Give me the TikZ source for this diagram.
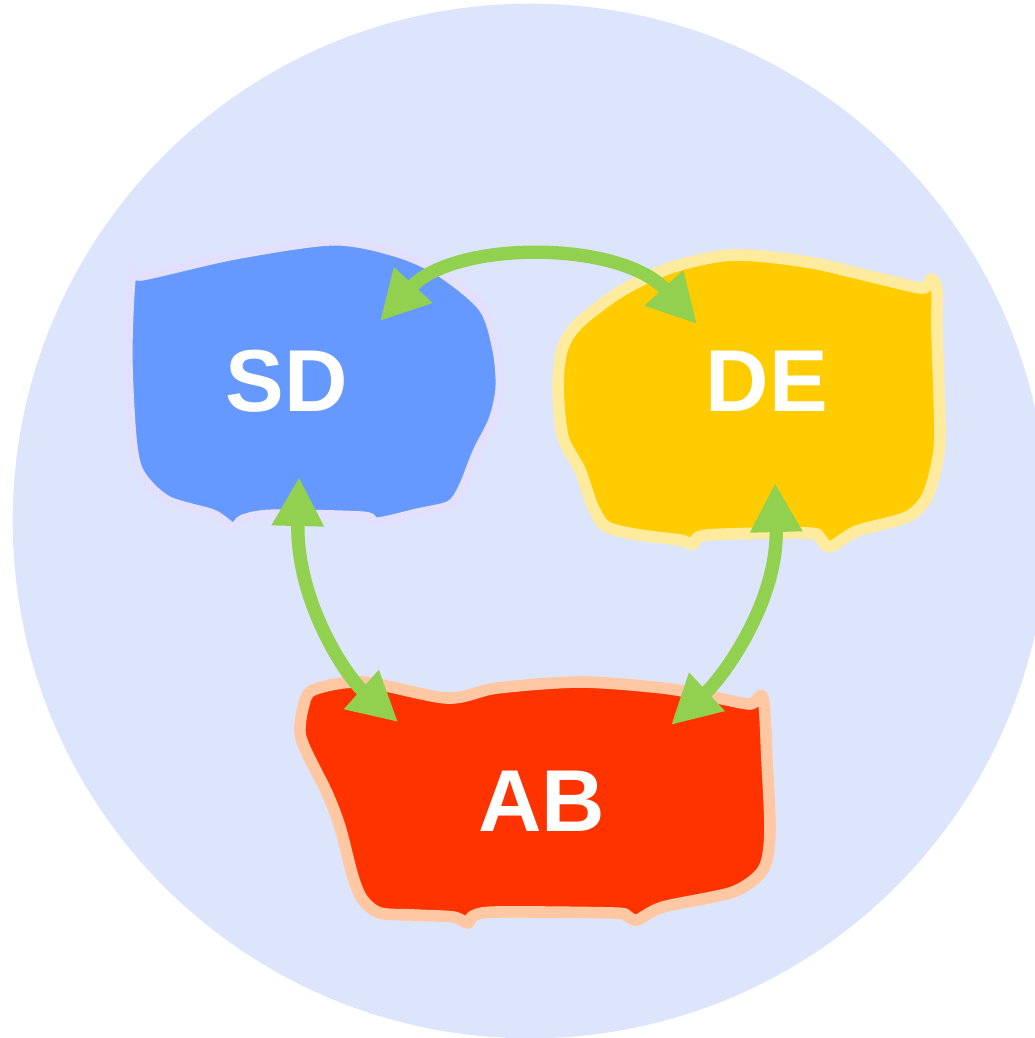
\documentclass[tikz,border=0pt]{standalone}
\usepackage{fontspec}
\setmainfont{Liberation Sans}
\usetikzlibrary{arrows.meta}

\definecolor{bgblue}{HTML}{DDE5FD}
\definecolor{sdfill}{HTML}{6699FF}
\definecolor{sdline}{HTML}{E2E0FC}
\definecolor{defill}{HTML}{FFCC00}
\definecolor{deline}{HTML}{FFEB9E}
\definecolor{abfill}{HTML}{FF3300}
\definecolor{abline}{HTML}{FFC8A2}
\definecolor{linkgreen}{HTML}{92D050}

\begin{document}
\begin{tikzpicture}[x=0.01cm, y=-0.01cm, font=\bfseries\fontsize{25}{30}\selectfont]
    \tikzset{blob/.style={line width=3.3pt, line join=round},
             tag/.style={text=white, inner sep=0pt},
             linkarrow/.style={draw=linkgreen, line width=3.8pt,
               {Triangle[length=4.9mm,width=4.9mm]}-{Triangle[length=4.9mm,width=4.9mm]}}}
    \useasboundingbox (0,0) rectangle (1035,1038);
    \clip (0,0) rectangle (1035,1038);
    \fill[bgblue] (530,521) circle (5.17cm);

    % the three blobs
    \draw[blob, fill=sdfill, draw=sdline, line width=2.6pt] plot[smooth cycle, tension=0.5] coordinates {
      (132,272) (142,276) (235,255) (333,241) (395,252) (440,272) (483,308) (497,350)
      (500,388) (493,420) (477,452) (463,487) (450,505) (417,513) (377,522) (363,516)
      (273,514) (243,519) (233,527) (213,514) (167,500) (140,473) (132,437) (128,353)};
    \draw[blob, fill=defill, draw=deline] plot[smooth cycle, tension=0.5] coordinates {
      (558,385) (563,347) (580,322) (623,290) (673,267) (733,255) (807,262) (873,277)
      (922,288) (931,279) (937,290) (937,330) (940,430) (937,463) (927,497) (907,517)
      (857,531) (830,547) (820,538) (807,533) (707,535) (693,544) (680,540) (640,535)
      (607,527) (593,507) (580,470) (563,437)};
    \draw[blob, fill=abfill, draw=abline] plot[smooth cycle, tension=0.5] coordinates {
      (313,690) (363,682) (447,698) (497,688) (580,682) (663,688) (713,697) (750,704)
      (763,698) (767,760) (770,827) (767,860) (757,877) (730,893) (663,907) (637,920)
      (627,916) (613,913) (497,912) (473,916) (468,923) (453,917) (413,915) (380,913)
      (363,900) (353,877) (340,827) (327,793) (307,753) (300,733) (303,708)};

    \node[tag] (sd) at (287,381) {SD};
    \node[tag] (de) at (767,381) {DE};
    \node[tag] (ab) at (542,801) {AB};

    \coordinate (sd-r) at (380,321);
    \coordinate (sd-b) at (299,477);
    \coordinate (de-l) at (697,324);
    \coordinate (de-b) at (775,483);
    \coordinate (ab-l) at (398,722);
    \coordinate (ab-r) at (671,725);

    \draw[linkarrow] (sd-r) .. controls (455,240) and (620,240) .. (de-l);
    \draw[linkarrow] (sd-b) .. controls (296,600) and (345,675) .. (ab-l);
    \draw[linkarrow] (de-b) .. controls (778,600) and (725,675) .. (ab-r);
\end{tikzpicture}
\end{document}
